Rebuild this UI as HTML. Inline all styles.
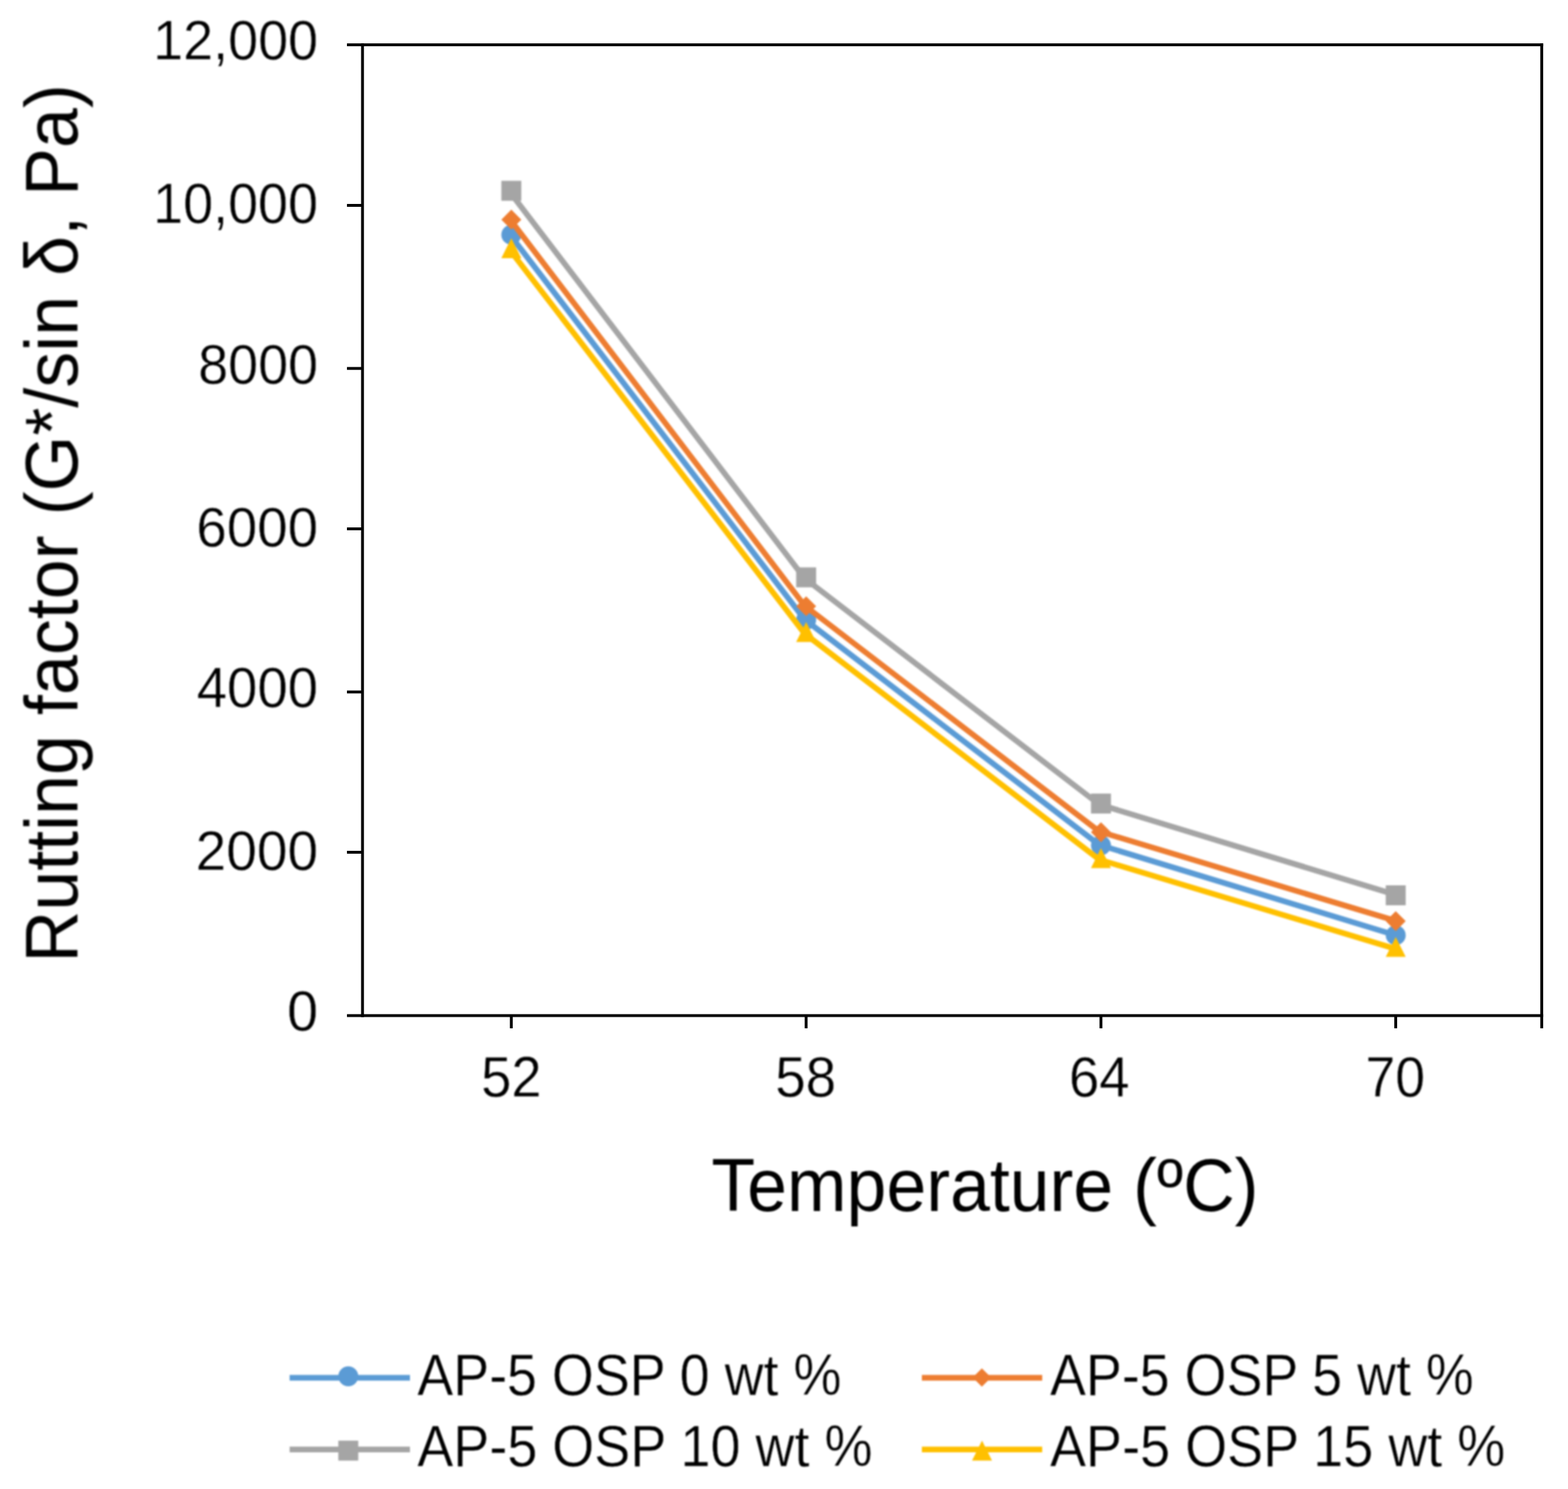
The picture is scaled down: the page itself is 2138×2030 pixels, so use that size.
<!DOCTYPE html>
<html lang="en">
<head>
<meta charset="utf-8">
<title>Rutting factor versus temperature</title>
<style>
html,body{margin:0;padding:0;background:#fff;}
body{width:2138px;height:2030px;overflow:hidden;}
svg{display:block;}
text{font-family:"Liberation Sans", Arial, Helvetica, sans-serif;fill:#000;}
.tick{font-size:75px;stroke:#fff;stroke-width:0.5px;stroke-linejoin:round;}
.title{font-size:98px;}
</style>
</head>
<body>
<svg width="2138" height="2030" viewBox="0 0 2138 2030" role="img" aria-label="Rutting factor versus temperature for AP-5 asphalt with 0, 5, 10 and 15 wt % OSP">
<defs>
<filter id="softS" x="0" y="0" width="2138" height="2030" filterUnits="userSpaceOnUse" color-interpolation-filters="sRGB"><feGaussianBlur stdDeviation="1.0"/></filter>
<filter id="softT" x="0" y="0" width="2138" height="2030" filterUnits="userSpaceOnUse" color-interpolation-filters="sRGB"><feGaussianBlur stdDeviation="0.8"/></filter>
</defs>
<rect x="0" y="0" width="2138" height="2030" fill="#fff"/>
<g fill="#000">
<rect x="473.1" y="59.15" width="1631.05" height="3.9"/>
<rect x="473.1" y="1382.65" width="1631.05" height="3.9"/>
<rect x="492.35" y="59.15" width="3.9" height="1327.40"/>
<rect x="2100.25" y="59.15" width="3.9" height="1342.75"/>
<rect x="473.1" y="278.05" width="21.20" height="3.9"/>
<rect x="473.1" y="500.35" width="21.20" height="3.9"/>
<rect x="473.1" y="719.05" width="21.20" height="3.9"/>
<rect x="473.1" y="941.45" width="21.20" height="3.9"/>
<rect x="473.1" y="1159.95" width="21.20" height="3.9"/>
<rect x="695.25" y="1384.60" width="3.9" height="17.30"/>
<rect x="1097.25" y="1384.60" width="3.9" height="17.30"/>
<rect x="1499.25" y="1384.60" width="3.9" height="17.30"/>
<rect x="1901.15" y="1384.60" width="3.9" height="17.30"/>
</g>
<g filter="url(#softS)">
<g>
<polyline points="694.9,319.4 1096.9,844.4 1498.9,1151.9 1900.8,1274.4" fill="none" stroke="#5B9BD5" stroke-width="7.7" stroke-linejoin="round" stroke-linecap="round"/>
<circle cx="697.2" cy="320.0" r="13.6" fill="#5B9BD5"/>
<circle cx="1099.2" cy="845.0" r="13.6" fill="#5B9BD5"/>
<circle cx="1501.2" cy="1152.5" r="13.6" fill="#5B9BD5"/>
<circle cx="1903.1" cy="1275.0" r="13.6" fill="#5B9BD5"/>
</g>
<g>
<polyline points="694.9,298.4 1096.9,825.5 1498.9,1133.6 1900.8,1254.8" fill="none" stroke="#ED7D31" stroke-width="7.7" stroke-linejoin="round" stroke-linecap="round"/>
<polygon points="697.2,285.8 710.8,299.4 697.2,313.0 683.6,299.4" fill="#ED7D31"/>
<polygon points="1099.2,812.9 1112.8,826.5 1099.2,840.1 1085.6,826.5" fill="#ED7D31"/>
<polygon points="1501.2,1121.0 1514.8,1134.6 1501.2,1148.2 1487.6,1134.6" fill="#ED7D31"/>
<polygon points="1903.1,1242.2 1916.7,1255.8 1903.1,1269.4 1889.5,1255.8" fill="#ED7D31"/>
</g>
<g>
<polyline points="694.9,261.3 1096.9,788.3 1498.9,1096.7 1900.8,1219.3" fill="none" stroke="#A5A5A5" stroke-width="7.7" stroke-linejoin="round" stroke-linecap="round"/>
<rect x="683.6" y="246.5" width="27.2" height="27.2" fill="#A5A5A5"/>
<rect x="1085.6" y="773.5" width="27.2" height="27.2" fill="#A5A5A5"/>
<rect x="1487.6" y="1081.9" width="27.2" height="27.2" fill="#A5A5A5"/>
<rect x="1889.5" y="1207.0" width="27.2" height="27.2" fill="#A5A5A5"/>
</g>
<g>
<polyline points="694.9,340.4 1096.9,863.6 1498.9,1171.9 1900.8,1293.0" fill="none" stroke="#FFC000" stroke-width="7.7" stroke-linejoin="round" stroke-linecap="round"/>
<polygon points="697.2,324.8 710.8,352.0 683.6,352.0" fill="#FFC000"/>
<polygon points="1099.2,848.0 1112.8,875.2 1085.6,875.2" fill="#FFC000"/>
<polygon points="1501.2,1156.3 1514.8,1183.5 1487.6,1183.5" fill="#FFC000"/>
<polygon points="1903.1,1277.4 1916.7,1304.6 1889.5,1304.6" fill="#FFC000"/>
</g>
<line x1="394.9" y1="1878.3" x2="559.0" y2="1878.3" stroke="#5B9BD5" stroke-width="7.7"/>
<circle cx="474.9" cy="1876.3" r="13.6" fill="#5B9BD5"/>
<line x1="1257.0" y1="1878.3" x2="1421.1" y2="1878.3" stroke="#ED7D31" stroke-width="7.7"/>
<polygon points="1338.8,1865.4 1351.4,1878.0 1338.8,1890.6 1326.2,1878.0" fill="#ED7D31"/>
<line x1="394.9" y1="1976.1" x2="559.0" y2="1976.1" stroke="#A5A5A5" stroke-width="7.7"/>
<rect x="461.3" y="1964.1" width="27.2" height="27.2" fill="#A5A5A5"/>
<line x1="1257.0" y1="1976.1" x2="1421.1" y2="1976.1" stroke="#FFC000" stroke-width="7.7"/>
<polygon points="1339.0,1964.1 1352.6,1991.3 1325.4,1991.3" fill="#FFC000"/>
</g>
<g filter="url(#softT)">
<text class="tick" transform="translate(433.67 81.23) scale(0.9806 1.0235)" text-anchor="end">12,000</text>
<text class="tick" transform="translate(433.67 304.16) scale(0.9806 1.0283)" text-anchor="end">10,000</text>
<text class="tick" transform="translate(433.67 522.53) scale(0.9800 1.0235)" text-anchor="end">8000</text>
<text class="tick" transform="translate(433.67 745.22) scale(0.9941 1.0235)" text-anchor="end">6000</text>
<text class="tick" transform="translate(433.67 963.82) scale(0.9916 1.0267)" text-anchor="end">4000</text>
<text class="tick" transform="translate(433.67 1186.42) scale(1.0009 1.0234)" text-anchor="end">2000</text>
<text class="tick" transform="translate(433.67 1405.16) scale(1.0128 1.0283)" text-anchor="end">0</text>
<text class="tick" transform="translate(697.22 1495.00) scale(0.9897 1.0252)" text-anchor="middle">52</text>
<text class="tick" transform="translate(1098.53 1495.00) scale(0.9977 1.0252)" text-anchor="middle">58</text>
<text class="tick" transform="translate(1498.87 1495.00) scale(0.9937 1.0252)" text-anchor="middle">64</text>
<text class="tick" transform="translate(1902.51 1495.00) scale(0.9727 1.0252)" text-anchor="middle">70</text>
<text class="title" transform="translate(1343.04 1651.47) scale(0.9960 1.0332)" text-anchor="middle">Temperature (ºC)</text>
<text class="title" transform="translate(106.00 713.59) rotate(-90) scale(0.9996 1.0383)" text-anchor="middle">Rutting factor (G*/sin δ, Pa)</text>
<text class="tick" transform="translate(568.90 1901.79) scale(0.9794 1.0619)" text-anchor="start">AP-5 OSP 0 wt %</text>
<text class="tick" transform="translate(1431.75 1901.79) scale(0.9786 1.0619)" text-anchor="start">AP-5 OSP 5 wt %</text>
<text class="tick" transform="translate(568.90 1999.21) scale(0.9821 1.0619)" text-anchor="start">AP-5 OSP 10 wt %</text>
<text class="tick" transform="translate(1431.75 1999.21) scale(0.9821 1.0619)" text-anchor="start">AP-5 OSP 15 wt %</text>
</g>
</svg>
</body>
</html>
